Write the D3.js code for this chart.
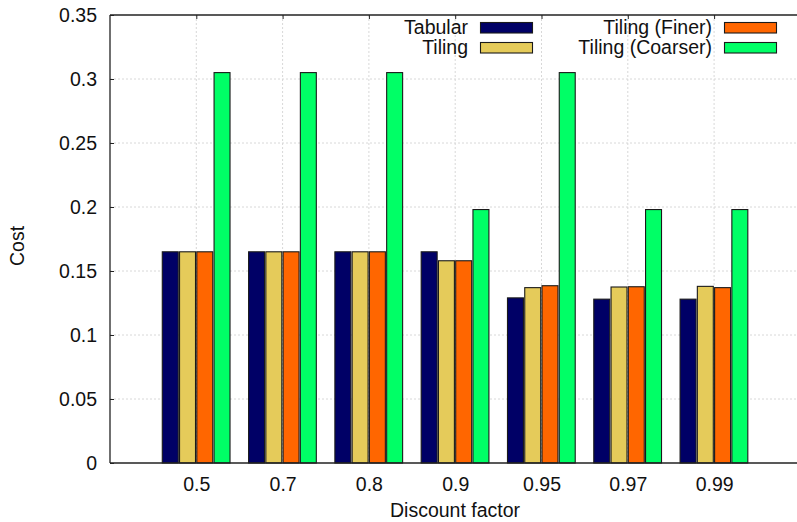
<!DOCTYPE html>
<html>
<head>
<meta charset="utf-8">
<script src="https://cdn.jsdelivr.net/npm/d3@7"></script>
<style>
  html, body { margin: 0; padding: 0; background: #fff; }
  svg { display: block; }
  text { font-family: "Liberation Sans", Arial, Helvetica, sans-serif; fill: #111; }
</style>
</head>
<body>
<svg id="chart" width="797" height="522"></svg>
<script>
const categories = ["0.5", "0.7", "0.8", "0.9", "0.95", "0.97", "0.99"];
const seriesNames = ["Tabular", "Tiling", "Tiling (Finer)", "Tiling (Coarser)"];
const tabular = [0.165, 0.165, 0.165, 0.165, 0.129, 0.128, 0.128];
const tiling = [0.165, 0.165, 0.165, 0.158, 0.137, 0.1375, 0.138];
const tilingFiner = [0.165, 0.165, 0.165, 0.158, 0.1385, 0.1377, 0.137];
const tilingCoarser = [0.305, 0.305, 0.305, 0.198, 0.305, 0.198, 0.198];
const yTicks = [0, 0.05, 0.1, 0.15, 0.2, 0.25, 0.3, 0.35];
const colors = ["#000066", "#e5cb5a", "#ff6600", "#00ff66"];

const series = [tabular, tiling, tilingFiner, tilingCoarser];
const FS = "19.5px";

const svg = d3.select("#chart");
const plotLeft = 110, plotTop = 15, plotBottom = 463;

const x = d3.scaleLinear().domain([-1, 7]).range([plotLeft, plotLeft + 8 * 86.3]);
const y = d3.scaleLinear().domain([0, 0.35]).range([plotBottom, plotTop]);
const plotRight = x(7);

// grid
const grid = svg.append("g");
grid.selectAll("line.h").data(yTicks.slice(1, -1)).enter().append("line")
  .attr("x1", plotLeft).attr("x2", plotRight)
  .attr("y1", d => y(d)).attr("y2", d => y(d))
  .attr("stroke", "#d8d8d8").attr("stroke-width", 1).attr("stroke-dasharray", "2,2");
grid.selectAll("line.v").data(categories).enter().append("line")
  .attr("x1", (d, i) => x(i)).attr("x2", (d, i) => x(i))
  .attr("y1", plotTop).attr("y2", plotBottom)
  .attr("stroke", "#d8d8d8").attr("stroke-width", 1).attr("stroke-dasharray", "2,2");

// bars
const unit = 1 / 5;
const barsG = svg.append("g");
series.forEach((vals, k) => {
  barsG.selectAll(null).data(vals).enter().append("rect")
    .attr("x", (d, i) => x(i + (k - 2) * unit) + 0.5)
    .attr("width", (d, i) => x(i + (k - 1) * unit) - x(i + (k - 2) * unit) - 1.3)
    .attr("y", d => y(d))
    .attr("height", d => plotBottom - y(d))
    .attr("fill", colors[k])
    .attr("stroke", "#1a1a1a").attr("stroke-width", 1.1);
});

// axes frame
const frame = svg.append("g").attr("stroke", "#222").attr("stroke-width", 1.3).attr("fill", "none");
frame.append("line").attr("x1", plotLeft).attr("x2", plotLeft).attr("y1", plotTop).attr("y2", plotBottom);
frame.append("line").attr("x1", plotLeft).attr("x2", plotRight).attr("y1", plotTop).attr("y2", plotTop);
frame.append("line").attr("x1", plotLeft).attr("x2", plotRight).attr("y1", plotBottom).attr("y2", plotBottom);

// y axis
const yAxis = d3.axisLeft(y).tickValues(yTicks).tickSize(-4).tickPadding(13)
  .tickFormat(d => String(+d.toFixed(2)));
const yg = svg.append("g").attr("transform", `translate(${plotLeft},0)`).call(yAxis);
yg.select(".domain").remove();
yg.selectAll(".tick line").attr("stroke", "#222");
yg.selectAll("text").style("font-size", FS).attr("fill", "#111");

// top ticks
const topAxis = d3.axisTop(x).tickValues(d3.range(categories.length)).tickSize(-4).tickFormat("");
const tg = svg.append("g").attr("transform", `translate(0,${plotTop})`).call(topAxis);
tg.select(".domain").remove();
tg.selectAll(".tick line").attr("stroke", "#222");

// x axis labels
const xAxis = d3.axisBottom(x).tickValues(d3.range(categories.length)).tickSize(0).tickPadding(14)
  .tickFormat(i => categories[i]);
const xg = svg.append("g").attr("transform", `translate(0,${plotBottom})`).call(xAxis);
xg.select(".domain").remove();
xg.selectAll("text").style("font-size", FS).attr("fill", "#111");

// axis titles
svg.append("text").attr("x", 455).attr("y", 517).attr("text-anchor", "middle")
  .style("font-size", FS).text("Discount factor");
svg.append("text").attr("transform", "translate(24,246) rotate(-90)").attr("text-anchor", "middle")
  .style("font-size", FS).text("Cost");

// legend
const legendPos = [
  { tx: 468, bx: 480, by: 34 },
  { tx: 468, bx: 480, by: 54 },
  { tx: 712, bx: 724, by: 34 },
  { tx: 712, bx: 724, by: 54 }
];
const lg = svg.append("g");
seriesNames.forEach((name, k) => {
  const p = legendPos[k];
  lg.append("text").attr("x", p.tx).attr("y", p.by).attr("text-anchor", "end")
    .style("font-size", FS).text(name);
  lg.append("rect").attr("x", p.bx + 0.5).attr("y", p.by - 11.5).attr("width", 52).attr("height", 10.5)
    .attr("fill", colors[k]).attr("stroke", "#1a1a1a").attr("stroke-width", 1.1);
});
</script>
</body>
</html>
